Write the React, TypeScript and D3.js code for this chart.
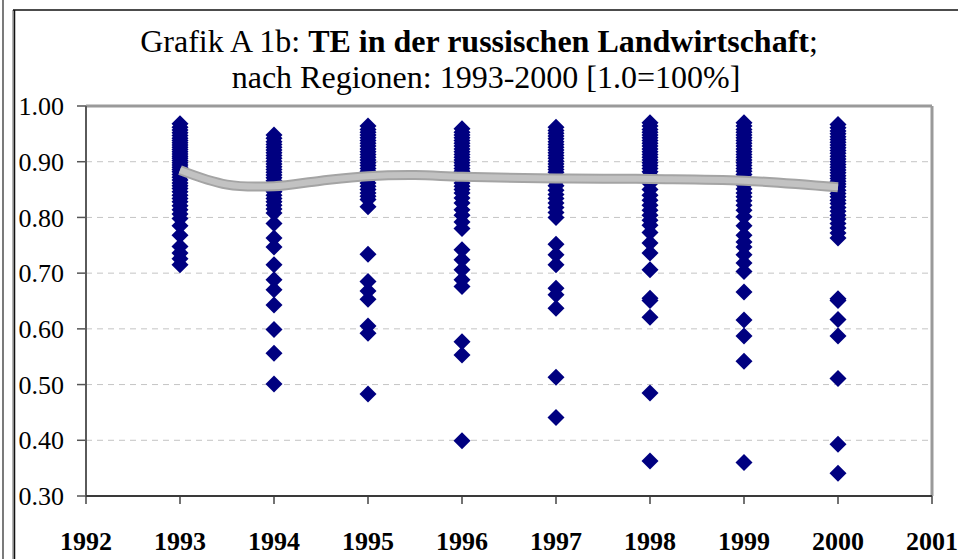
import React from "react";
import * as d3 from "d3";

const years = [1992, 1993, 1994, 1995, 1996, 1997, 1998, 1999, 2000, 2001];
const yTicks = [0.3, 0.4, 0.5, 0.6, 0.7, 0.8, 0.9, 1.0];

const te1993 = [0.968, 0.962, 0.957, 0.952, 0.947, 0.942, 0.938, 0.934, 0.93, 0.926, 0.922, 0.918, 0.914, 0.91, 0.906, 0.902, 0.898, 0.894, 0.89, 0.886, 0.882, 0.877, 0.872, 0.867, 0.862, 0.857, 0.852, 0.846, 0.84, 0.834, 0.828, 0.821, 0.814, 0.806, 0.798, 0.785, 0.768, 0.748, 0.736, 0.726, 0.715];
const te1994 = [0.948, 0.942, 0.936, 0.931, 0.926, 0.921, 0.916, 0.911, 0.906, 0.901, 0.896, 0.891, 0.886, 0.881, 0.876, 0.871, 0.866, 0.861, 0.856, 0.851, 0.846, 0.84, 0.834, 0.828, 0.822, 0.815, 0.808, 0.789, 0.763, 0.747, 0.715, 0.688, 0.67, 0.643, 0.599, 0.556, 0.501];
const te1995 = [0.964, 0.958, 0.953, 0.948, 0.943, 0.938, 0.933, 0.928, 0.923, 0.918, 0.913, 0.908, 0.903, 0.898, 0.893, 0.888, 0.883, 0.878, 0.873, 0.868, 0.862, 0.856, 0.85, 0.844, 0.838, 0.832, 0.819, 0.734, 0.685, 0.668, 0.653, 0.605, 0.592, 0.483];
const te1996 = [0.959, 0.953, 0.948, 0.943, 0.938, 0.933, 0.928, 0.923, 0.918, 0.913, 0.908, 0.903, 0.898, 0.893, 0.888, 0.883, 0.878, 0.873, 0.868, 0.862, 0.856, 0.85, 0.844, 0.835, 0.826, 0.814, 0.804, 0.792, 0.78, 0.742, 0.724, 0.706, 0.688, 0.676, 0.577, 0.553, 0.399];
const te1997 = [0.962, 0.956, 0.951, 0.946, 0.941, 0.936, 0.931, 0.926, 0.921, 0.916, 0.911, 0.906, 0.901, 0.896, 0.891, 0.886, 0.881, 0.876, 0.87, 0.864, 0.857, 0.849, 0.841, 0.834, 0.826, 0.818, 0.809, 0.8, 0.752, 0.733, 0.715, 0.673, 0.661, 0.637, 0.513, 0.441];
const te1998 = [0.97, 0.964, 0.958, 0.953, 0.948, 0.943, 0.938, 0.933, 0.928, 0.923, 0.918, 0.913, 0.908, 0.903, 0.898, 0.893, 0.888, 0.882, 0.876, 0.869, 0.861, 0.85, 0.84, 0.831, 0.822, 0.813, 0.804, 0.795, 0.786, 0.773, 0.754, 0.736, 0.706, 0.655, 0.651, 0.621, 0.485, 0.363];
const te1999 = [0.97, 0.964, 0.958, 0.953, 0.948, 0.943, 0.938, 0.933, 0.928, 0.923, 0.918, 0.913, 0.908, 0.903, 0.898, 0.893, 0.888, 0.883, 0.877, 0.871, 0.865, 0.858, 0.851, 0.844, 0.837, 0.83, 0.822, 0.813, 0.801, 0.785, 0.768, 0.756, 0.747, 0.733, 0.718, 0.703, 0.666, 0.616, 0.587, 0.542, 0.36];
const te2000 = [0.967, 0.961, 0.955, 0.95, 0.945, 0.94, 0.935, 0.93, 0.925, 0.92, 0.915, 0.91, 0.905, 0.9, 0.895, 0.89, 0.885, 0.88, 0.875, 0.87, 0.865, 0.86, 0.855, 0.849, 0.843, 0.837, 0.831, 0.825, 0.818, 0.811, 0.804, 0.797, 0.789, 0.781, 0.772, 0.763, 0.654, 0.651, 0.617, 0.587, 0.511, 0.393, 0.341];

const seriesYears = [1993, 1994, 1995, 1996, 1997, 1998, 1999, 2000];
const seriesValues = [te1993, te1994, te1995, te1996, te1997, te1998, te1999, te2000];

const trendYears = [1993, 1993.5, 1994, 1994.5, 1995, 1995.5, 1996, 1997, 1998, 1999, 2000];
const trendValues = [0.885, 0.859, 0.856, 0.866, 0.874, 0.876, 0.873, 0.87, 0.869, 0.866, 0.854];

const W = 958;
const H = 559;
const L = 86, R = 932, T = 106, B = 496;

export default function App() {
  const x = d3.scaleLinear().domain([1992, 2001]).range([L, R]);
  const y = d3.scaleLinear().domain([0.3, 1.0]).range([B, T]);
  const points: { yr: number; v: number }[] = [];
  seriesYears.forEach((yr, i) => seriesValues[i].forEach((v) => points.push({ yr, v })));
  const trendLine = d3
    .line<number>()
    .x((_, i) => x(trendYears[i]))
    .y((d) => y(d))
    .curve(d3.curveCatmullRom.alpha(0.5));
  const diamond = "M0,-8.5L8.5,0L0,8.5L-8.5,0Z";
  const font = "'Liberation Serif', 'Times New Roman', serif";
  const tp = trendLine(trendValues) || "";
  return (
    <svg width={W} height={H} style={{ position: "absolute", left: 0, top: 0, background: "#fff" }} fontFamily={font}>
      <rect x={0} y={0} width={W} height={H} fill="#fff" />
      <line x1={3} y1={0} x2={3} y2={H} stroke="#222" strokeWidth={1.2} />
      <line x1={13} y1={10} x2={13} y2={H} stroke="#999" strokeWidth={1.5} />
      <line x1={14.5} y1={10} x2={14.5} y2={H} stroke="#111" strokeWidth={1.5} />
      <line x1={13} y1={10} x2={W} y2={10} stroke="#111" strokeWidth={1.5} />

      <text x={479} y={52} textAnchor="middle" fontSize={32}>
        Grafik A 1b: <tspan fontWeight="bold">TE in der russischen Landwirtschaft</tspan>;
      </text>
      <text x={486} y={88} textAnchor="middle" fontSize={32}>
        nach Regionen: 1993-2000 [1.0=100%]
      </text>

      {yTicks.slice(1, -1).map((t) => (
        <line key={"g" + t} x1={L} x2={R} y1={y(t)} y2={y(t)} stroke="#c4c4c4" strokeWidth={1} strokeDasharray="6,5" />
      ))}
      <line x1={L} y1={T} x2={R} y2={T} stroke="#9a9a9a" strokeWidth={3} />
      <line x1={R} y1={T} x2={R} y2={B} stroke="#9a9a9a" strokeWidth={3} />

      {yTicks.map((t) => (
        <g key={"yt" + t}>
          <line x1={77} x2={L} y1={y(t)} y2={y(t)} stroke="#555" strokeWidth={1.5} />
          <text x={64} y={y(t)} dy="0.35em" textAnchor="end" fontSize={26}>
            {t.toFixed(2)}
          </text>
        </g>
      ))}
      {years.map((yr) => (
        <g key={"xt" + yr}>
          <line x1={x(yr)} x2={x(yr)} y1={B} y2={504} stroke="#444" strokeWidth={1.5} />
          <text x={x(yr)} y={541} dy="0.35em" textAnchor="middle" fontSize={26} fontWeight="bold">
            {yr}
          </text>
        </g>
      ))}

      {points.map((p, i) => (
        <path key={i} d={diamond} transform={`translate(${x(p.yr)},${y(p.v)})`} fill="#000080" />
      ))}

      <path d={tp} fill="none" stroke="#a4a4a4" strokeWidth={10} />
      <path d={tp} fill="none" stroke="#c2c2c2" strokeWidth={6} />

      <line x1={L} y1={T} x2={L} y2={B} stroke="#5a5a5a" strokeWidth={2} />
      <line x1={L} y1={B} x2={R} y2={B} stroke="#3a3a3a" strokeWidth={2} />
    </svg>
  );
}
